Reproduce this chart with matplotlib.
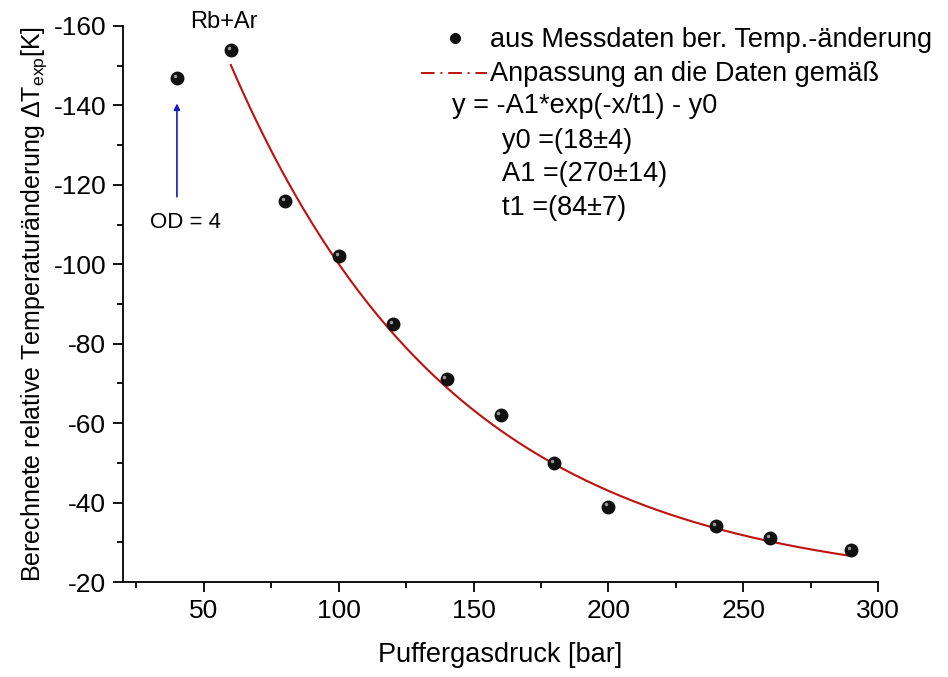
import numpy as np
import matplotlib
matplotlib.use('Agg')
import matplotlib.pyplot as plt
from matplotlib.lines import Line2D
from matplotlib.ticker import MultipleLocator
import matplotlib.transforms as mtransforms

plt.rcParams.update({'font.size': 14, 'font.family': 'Liberation Sans',
                     'axes.unicode_minus': False,
                     'mathtext.fontset': 'custom',
                     'mathtext.rm': 'Liberation Sans',
                     'mathtext.it': 'Liberation Sans'})

# measured points: buffer gas pressure [bar] vs. temperature change [K]
druck = [40, 60, 80, 100, 120, 140, 160, 180, 200, 240, 260, 290]
delta_t = [-147, -154, -116, -102, -85, -71, -62, -50, -39, -34, -31, -28]

# fit parameters as given in the legend
y0, A1, t1 = 18, 270, 84
fit_x = np.linspace(60, 290, 200)
fit_y = -A1 * np.exp(-fit_x / t1) - y0

fig = plt.figure(figsize=(9.48, 6.77), dpi=100)
ax = fig.add_axes([123 / 948, 1 - 582 / 677, 755 / 948, 556 / 677])

ax.plot(fit_x, fit_y, color='#c01010', lw=1.5)
ax.plot(druck, delta_t, 'o', color='#111111', ms=9, zorder=3)
# little highlight on the balls
shift = mtransforms.ScaledTranslation(-1.5 / 72, 1.5 / 72, fig.dpi_scale_trans)
ax.plot(druck, delta_t, 'o', color='#9a9a9a', ms=2.5, zorder=4,
        markeredgewidth=0, transform=ax.transData + shift)

ax.set_xlim(20, 300)
ax.set_ylim(-20, -160)
ax.set_xticks([50, 100, 150, 200, 250, 300])
ax.xaxis.set_minor_locator(MultipleLocator(25))
ax.yaxis.set_major_locator(MultipleLocator(20))
ax.yaxis.set_minor_locator(MultipleLocator(10))
ax.tick_params(which='major', direction='out', length=7, width=1.3, labelsize=19, pad=5)
ax.tick_params(which='minor', direction='out', length=4.5, width=1.3)
for s in ['top', 'right']:
    ax.spines[s].set_visible(False)
for s in ['left', 'bottom']:
    ax.spines[s].set_linewidth(1.3)

ax.set_xlabel('Puffergasdruck [bar]', fontsize=19.5, labelpad=14)
ax.set_ylabel(r'Berechnete relative Temperaturänderung $\Delta$T$_{\mathrm{exp}}$[K]',
              fontsize=18, labelpad=3)

fig.text(224 / 948, 1 - 22 / 677, 'Rb+Ar', ha='center', va='center', fontsize=17)
ax.annotate('', xy=(40, -140.5), xytext=(40, -117),
            arrowprops=dict(arrowstyle='-|>', color='#1a1ab8', lw=1.2,
                            mutation_scale=9, shrinkA=0, shrinkB=0))
fig.text(186 / 948, 1 - 222 / 677, 'OD = 4', ha='center', va='center', fontsize=16)

# legend drawn by hand
fig.add_artist(Line2D([455 / 948], [1 - 38 / 677], marker='o', color='#111111',
                      ms=7, transform=fig.transFigure))
fig.text(490 / 948, 1 - 40 / 677, 'aus Messdaten ber. Temp.-änderung',
         fontsize=19.5, va='center')
fig.add_artist(Line2D([421 / 948, 487 / 948], [1 - 73 / 677] * 2, color='#c01010',
                      lw=1.4, ls=(0, (7, 3, 1, 3)), transform=fig.transFigure))
fig.text(490 / 948, 1 - 74 / 677, 'Anpassung an die Daten gemäß',
         fontsize=19.5, va='center')
fig.text(452 / 948, 1 - 106 / 677, 'y = -A1*exp(-x/t1) - y0', fontsize=19.5, va='center')
fig.text(502 / 948, 1 - 141 / 677, 'y0 =(18±4)', fontsize=19.5, va='center')
fig.text(502 / 948, 1 - 174 / 677, 'A1 =(270±14)', fontsize=19.5, va='center')
fig.text(502 / 948, 1 - 208 / 677, 't1 =(84±7)', fontsize=19.5, va='center')

fig.savefig('out.png', dpi=100)
